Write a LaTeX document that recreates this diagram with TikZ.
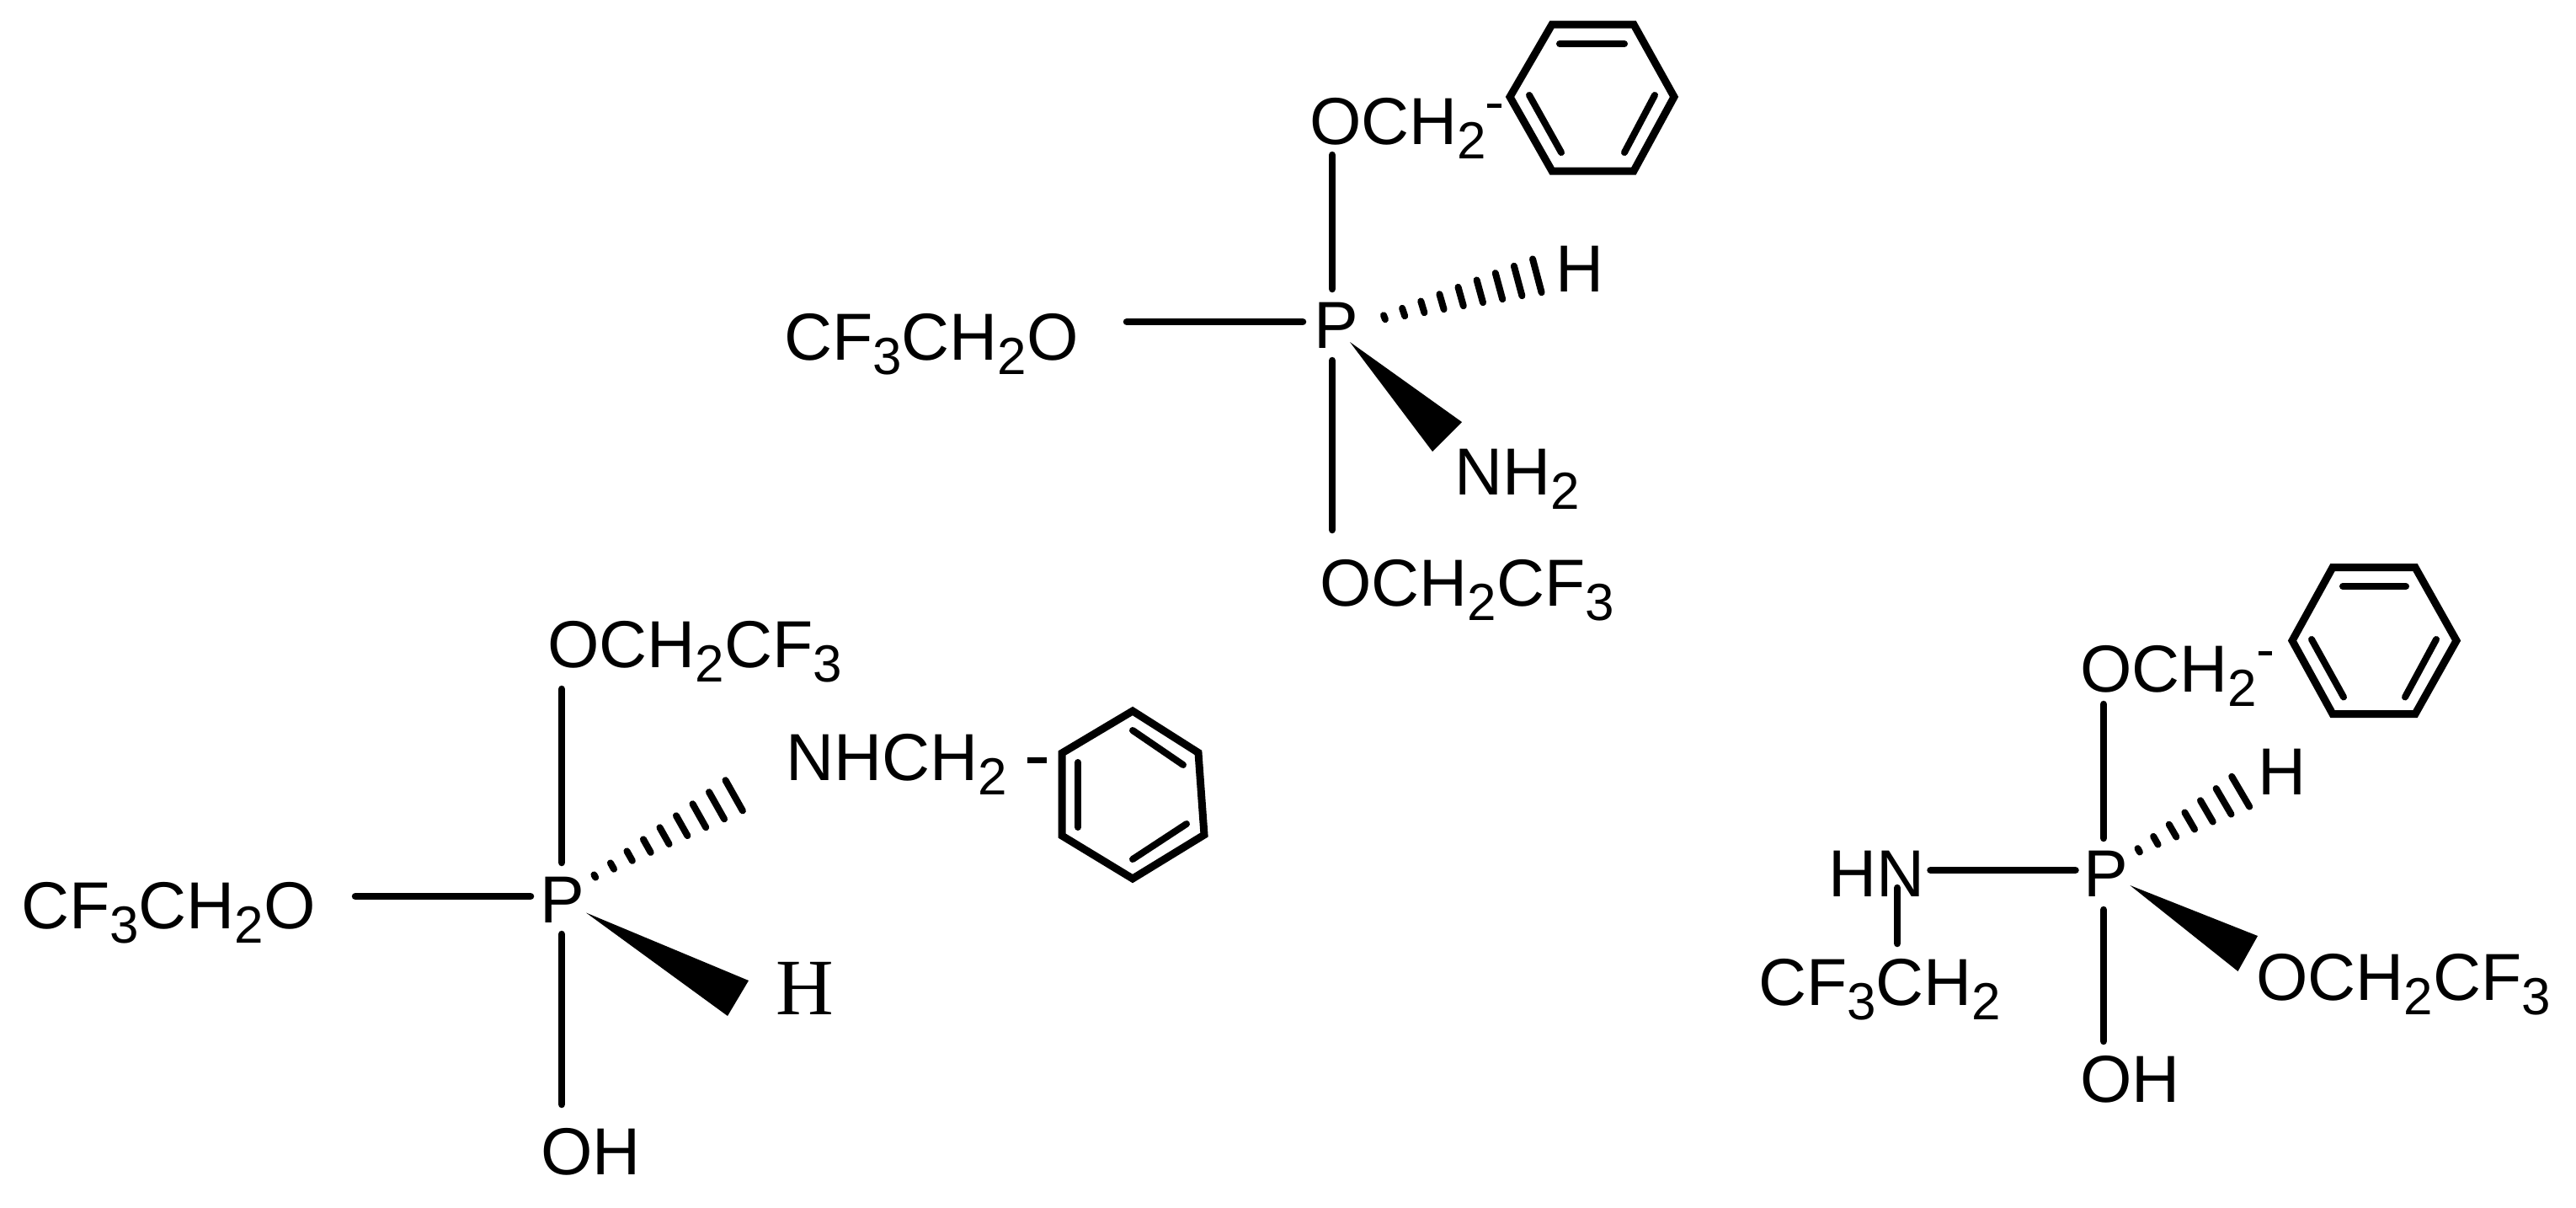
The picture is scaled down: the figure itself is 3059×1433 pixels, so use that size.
\documentclass[tikz,border=0pt]{standalone}
\usepackage{fontspec}
\setmainfont{Liberation Sans}
\newfontfamily\serifH{Liberation Serif}
\usetikzlibrary{calc}
\newcommand{\sbs}[1]{\raisebox{-17pt}{\fontsize{62}{62}\selectfont #1}}
\tikzset{
  atom/.style={anchor=base west,inner sep=0pt,outer sep=0pt,font=\fontsize{79}{79}\selectfont,text=black},
  bond/.style={draw=black,line width=8.5pt,line cap=round},
  ring/.style={draw=black,line width=9pt,line join=miter},
  inner bond/.style={draw=black,line width=8pt,line cap=round},
  hash bond/.style={draw=black,line width=8pt,line cap=round},
  wedge bond/.style={fill=black,draw=none},
  dash bond/.style={draw=black,line width=5pt},
}
\newcommand{\hashbond}[7]{%
  \foreach \i in {0,...,#7}{%
    \pgfmathsetmacro\tt{\i/#7}%
    \pgfmathsetmacro\hx{#3+\tt*(#5-#3)}%
    \pgfmathsetmacro\hy{#4+\tt*(#6-#4)}%
    \draw[hash bond] ($(#1)!\tt!(#2)+(-\hx,-\hy)$) -- ($(#1)!\tt!(#2)+(\hx,\hy)$);
  }%
}
\newcommand{\ringdraw}[1]{\draw[ring] (#1a) -- (#1b) -- (#1c) -- (#1d) -- (#1e) -- (#1f) -- cycle;}
\begin{document}
\begin{tikzpicture}[x=1pt,y=-1pt]
\useasboundingbox (0,0) rectangle (3059,1433);
\fill[white] (0,0) rectangle (3059,1433);

%%% Top molecule
\node[atom] (Ao) at (1555,171) {OCH\sbs{2}};
\node[atom] (Al) at (931,427) {CF\sbs{3}CH\sbs{2}O};
\node[atom] (Ap) at (1560,413) {P};
\node[atom] (Ah) at (1847,346) {H};
\node[atom] (An) at (1727,587) {NH\sbs{2}};
\node[atom] (Ab) at (1567,719) {OCH\sbs{2}CF\sbs{3}};
\coordinate (A1) at (1582,184); \coordinate (A2) at (1582,343);
\coordinate (A3) at (1338,382); \coordinate (A4) at (1547,382);
\coordinate (A5) at (1582,428); \coordinate (A6) at (1582,629);
\draw[bond] (A1) -- (A2);
\draw[bond] (A3) -- (A4);
\draw[bond] (A5) -- (A6);
\coordinate (Aw1) at (1603,406); \coordinate (Aw2) at (1736,501); \coordinate (Aw3) at (1701,536);
\fill[wedge bond] (Aw1) -- (Aw2) -- (Aw3) -- cycle;
\coordinate (Ah1) at (1644,376.7); \coordinate (Ah2) at (1825.3,327.3);
\hashbond{Ah1}{Ah2}{1}{2.5}{5.3}{19.9}{8}
\coordinate (Ara) at (1843,29); \coordinate (Arb) at (1940,29); \coordinate (Arc) at (1988,115);
\coordinate (Ard) at (1940,203); \coordinate (Are) at (1843,203); \coordinate (Arf) at (1793,115);
\ringdraw{Ar}
\coordinate (Ai1) at (1852,52); \coordinate (Ai2) at (1929,52);
\coordinate (Ai3) at (1816,113); \coordinate (Ai4) at (1854,181);
\coordinate (Ai5) at (1965,113); \coordinate (Ai6) at (1929,181);
\draw[inner bond] (Ai1) -- (Ai2);
\draw[inner bond] (Ai3) -- (Ai4);
\draw[inner bond] (Ai5) -- (Ai6);
\coordinate (Am1) at (1766,125); \coordinate (Am2) at (1783,125);
\draw[dash bond] (Am1) -- (Am2);

%%% Left molecule
\node[atom] (Bo) at (650,792) {OCH\sbs{2}CF\sbs{3}};
\node[atom] (Bn) at (933,926) {NHCH\sbs{2}};
\node[atom] (Bl) at (25,1102) {CF\sbs{3}CH\sbs{2}O};
\node[atom] (Bp) at (641,1095) {P};
\node[atom,font=\fontsize{95}{95}\selectfont\serifH] (Bh) at (921,1204) {H};
\node[atom] (Bb) at (642,1394) {OH};
\coordinate (B1) at (667,818); \coordinate (B2) at (667,1024);
\coordinate (B3) at (422,1064); \coordinate (B4) at (630,1064);
\coordinate (B5) at (667,1109); \coordinate (B6) at (667,1311);
\draw[bond] (B1) -- (B2);
\draw[bond] (B3) -- (B4);
\draw[bond] (B5) -- (B6);
\coordinate (Bw1) at (696,1083.5); \coordinate (Bw2) at (889,1164); \coordinate (Bw3) at (864,1206);
\fill[wedge bond] (Bw1) -- (Bw2) -- (Bw3) -- cycle;
\coordinate (Bh1) at (706.3,1040); \coordinate (Bh2) at (871.7,944.3);
\hashbond{Bh1}{Bh2}{0.9}{1.6}{10.2}{18.1}{8}
\coordinate (Bra) at (1345,844); \coordinate (Brb) at (1423,893.5); \coordinate (Brc) at (1430,991);
\coordinate (Brd) at (1345,1043); \coordinate (Bre) at (1261,992); \coordinate (Brf) at (1261,894);
\ringdraw{Br}
\coordinate (Bi1) at (1345,867); \coordinate (Bi2) at (1405,908);
\coordinate (Bi3) at (1280,905); \coordinate (Bi4) at (1280,982);
\coordinate (Bi5) at (1345,1020); \coordinate (Bi6) at (1409,978);
\draw[inner bond] (Bi1) -- (Bi2);
\draw[inner bond] (Bi3) -- (Bi4);
\draw[inner bond] (Bi5) -- (Bi6);
\coordinate (Bm1) at (1220,902); \coordinate (Bm2) at (1243,902);
\draw[dash bond,line width=7pt] (Bm1) -- (Bm2);

%%% Right molecule
\node[atom] (Co) at (2470,821) {OCH\sbs{2}};
\node[atom] (Ch) at (2681,943.5) {H};
\node[atom] (Cp) at (2474,1064) {P};
\node[atom] (Cn) at (2171,1064) {HN};
\node[atom] (Cc) at (2088,1193) {CF\sbs{3}CH\sbs{2}};
\node[atom] (Cr) at (2679,1187) {OCH\sbs{2}CF\sbs{3}};
\node[atom] (Cb) at (2470,1308) {OH};
\coordinate (C1) at (2498,836); \coordinate (C2) at (2498,995);
\coordinate (C3) at (2292.5,1033); \coordinate (C4) at (2464.5,1033);
\coordinate (C5) at (2498,1080); \coordinate (C6) at (2498,1236);
\coordinate (C7) at (2253,1054); \coordinate (C8) at (2253,1120);
\draw[bond] (C1) -- (C2);
\draw[bond] (C3) -- (C4);
\draw[bond] (C5) -- (C6);
\draw[bond] (C7) -- (C8);
\coordinate (Cw1) at (2529.4,1051); \coordinate (Cw2) at (2681,1111); \coordinate (Cw3) at (2657.5,1153);
\fill[wedge bond] (Cw1) -- (Cw2) -- (Cw3) -- cycle;
\coordinate (Ch1) at (2539.7,1009.3); \coordinate (Ch2) at (2660.7,939.7);
\hashbond{Ch1}{Ch2}{1.2}{2.2}{10.5}{17.9}{6}
\coordinate (Cra) at (2770,673.5); \coordinate (Crb) at (2868,673.5); \coordinate (Crc) at (2917,760.5);
\coordinate (Crd) at (2868,847.6); \coordinate (Cre) at (2770,847.6); \coordinate (Crf) at (2722,760.5);
\ringdraw{Cr}
\coordinate (Ci1) at (2782,696); \coordinate (Ci2) at (2857,696);
\coordinate (Ci3) at (2745,759); \coordinate (Ci4) at (2783,827.5);
\coordinate (Ci5) at (2893,759); \coordinate (Ci6) at (2856,827.5);
\draw[inner bond] (Ci1) -- (Ci2);
\draw[inner bond] (Ci3) -- (Ci4);
\draw[inner bond] (Ci5) -- (Ci6);
\coordinate (Cm1) at (2682,775); \coordinate (Cm2) at (2698,775);
\draw[dash bond] (Cm1) -- (Cm2);
\end{tikzpicture}
\end{document}
